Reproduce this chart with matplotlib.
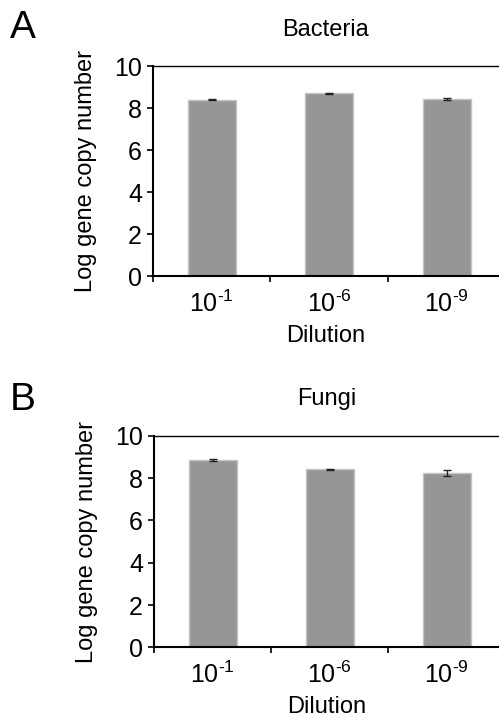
import numpy as np
import matplotlib
matplotlib.use("Agg")
import matplotlib.pyplot as plt

plt.rcParams["font.family"] = ["Liberation Sans", "DejaVu Sans"]
plt.rcParams["mathtext.fontset"] = "custom"
plt.rcParams["mathtext.rm"] = "Liberation Sans"
plt.rcParams["mathtext.it"] = "Liberation Sans"
plt.rcParams["mathtext.default"] = "regular"

# data
dilutions = [r"$10^{\text{-1}}$", r"$10^{\text{-6}}$", r"$10^{\text{-9}}$"]
bacteria = [8.40, 8.70, 8.44]
bacteria_err = [0.03, 0.02, 0.05]
fungi = [8.86, 8.42, 8.26]
fungi_err = [0.05, 0.04, 0.14]

fig = plt.figure(figsize=(4.99, 7.18), dpi=100)

def panel(rect, vals, errs, title, letter, letter_y):
    ax = fig.add_axes(rect)
    x = np.arange(len(vals))
    ax.bar(x, vals, width=0.41, color="#969696", edgecolor="#c4c4c4", linewidth=1.0)
    ax.errorbar(x, vals, yerr=errs, fmt="none", ecolor="#222222",
                elinewidth=1.0, capsize=3, capthick=1.0)
    ax.set_xlim(-0.5, 2.445)
    ax.set_ylim(0, 10)
    ax.set_yticks([0, 2, 4, 6, 8, 10])
    ax.set_xticks(x)
    ax.set_xticklabels(dilutions)
    ax.set_xticks([-0.5, 0.5, 1.5], minor=True)
    ax.tick_params(axis="x", which="major", length=0, labelsize=18, pad=10)
    ax.tick_params(axis="x", which="minor", length=4, width=1.2, direction="out")
    ax.tick_params(axis="y", length=4, width=1.2, direction="out", labelsize=18, pad=4)
    for s in ["left", "bottom"]:
        ax.spines[s].set_linewidth(1.5)
    ax.spines["top"].set_linewidth(1.0)
    ax.spines["right"].set_visible(False)
    ax.set_ylabel("Log gene copy number", fontsize=17, labelpad=12)
    ax.set_xlabel("Dilution", fontsize=17, labelpad=6)
    ax.set_title(title, fontsize=17, pad=22)
    fig.text(0.02, letter_y, letter, fontsize=28, ha="left", va="baseline")
    return ax

panel([0.3066, 0.6152, 0.6934, 0.2928], bacteria, bacteria_err, "Bacteria", "A", 0.947)
panel([0.3086, 0.0985, 0.6914, 0.2943], fungi, fungi_err, "Fungi", "B", 0.429)

fig.savefig("out.png", dpi=100)
